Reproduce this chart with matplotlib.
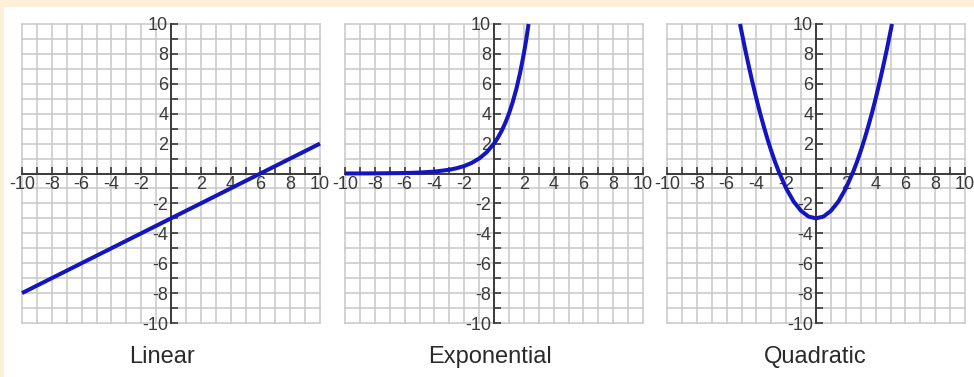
import matplotlib
matplotlib.use('Agg')
import matplotlib.pyplot as plt
from matplotlib.patches import Rectangle
from matplotlib.ticker import FuncFormatter, MultipleLocator

# points
linear_x = [-10, 10]
linear_y = [-8, 2]

exp_x = [-10, -8, -6, -5, -4, -3, -2.5, -2, -1.5, -1, -0.5, 0, 0.25, 0.5, 0.75,
         1, 1.25, 1.5, 1.75, 2, 2.16, 2.32]
exp_y = [0.002, 0.008, 0.031, 0.063, 0.125, 0.25, 0.354, 0.5, 0.707, 1, 1.414, 2,
         2.378, 2.828, 3.364, 4, 4.757, 5.657, 6.727, 8, 8.94, 10]

quad_x = [-5.1, -4.75, -4.5, -4.25, -4, -3.75, -3.5, -3.25, -3, -2.75, -2.5, -2,
          -1.5, -1, -0.5, 0, 0.5, 1, 1.5, 2, 2.5, 2.75, 3, 3.25, 3.5, 3.75, 4,
          4.25, 4.5, 4.75, 5.1]
quad_y = [10, 8.28, 7.13, 6.03, 5, 4.03, 3.13, 2.28, 1.5, 0.78, 0.13, -1,
          -1.88, -2.5, -2.88, -3, -2.88, -2.5, -1.88, -1, 0.13, 0.78, 1.5, 2.28,
          3.13, 4.03, 5, 6.03, 7.13, 8.28, 10]

titles = ['Linear', 'Exponential', 'Quadratic']
curves = [(linear_x, linear_y), (exp_x, exp_y), (quad_x, quad_y)]

W, H = 974, 377
fig = plt.figure(figsize=(W / 100, H / 100), dpi=100)
fig.patch.set_facecolor('#fdefd8')
fig.patches.append(Rectangle((4 / W, 0), 1, 1 - 7 / H, transform=fig.transFigure,
                             facecolor='white', edgecolor='none', zorder=-10))

tick_font = ['Liberation Sans Narrow', 'Liberation Sans', 'DejaVu Sans']
lefts = [22, 345, 667]
label_x = [162, 490, 815]


def no_zero(v, pos):
    return '' if abs(v) < 1e-9 else '%d' % v


for left, lx, (cx, cy), title in zip(lefts, label_x, curves, titles):
    ax = fig.add_axes([left / W, (H - 323) / H, 298 / W, 299 / H])
    ax.set_xlim(-10, 10)
    ax.set_ylim(-10, 10)
    ax.patch.set_alpha(0)

    # unit grid, including the outer border lines
    for v in range(-10, 11):
        ax.axvline(v, color='#c8c8c8', lw=1.1, zorder=1, clip_on=False)
        ax.axhline(v, color='#c8c8c8', lw=1.1, zorder=1, clip_on=False)

    for s in ['top', 'right']:
        ax.spines[s].set_visible(False)
    for s in ['left', 'bottom']:
        ax.spines[s].set_position(('data', 0))
        ax.spines[s].set_color('#3a3a3a')
        ax.spines[s].set_linewidth(1.4)
        ax.spines[s].set_zorder(2)

    ax.xaxis.set_major_locator(MultipleLocator(2))
    ax.yaxis.set_major_locator(MultipleLocator(2))
    ax.xaxis.set_minor_locator(MultipleLocator(1))
    ax.yaxis.set_minor_locator(MultipleLocator(1))
    ax.xaxis.set_major_formatter(FuncFormatter(no_zero))
    ax.yaxis.set_major_formatter(FuncFormatter(no_zero))
    ax.tick_params(which='both', direction='in', color='#3a3a3a', width=1.2,
                   length=5, labelsize=13, labelcolor='#3a3a3a', pad=2)
    for lab in ax.get_xticklabels() + ax.get_yticklabels():
        lab.set_family(tick_font)

    ax.plot(cx, cy, color='#1414c0', lw=2.9, zorder=3, clip_on=False,
            solid_capstyle='butt', solid_joinstyle='round')

    fig.text(lx / W, 1 - 357 / H, title, ha='center', va='center',
             fontsize=17, color='#2a2a2a', family=['Liberation Sans', 'DejaVu Sans'])

fig.savefig('out.png', dpi=100, facecolor=fig.get_facecolor())
